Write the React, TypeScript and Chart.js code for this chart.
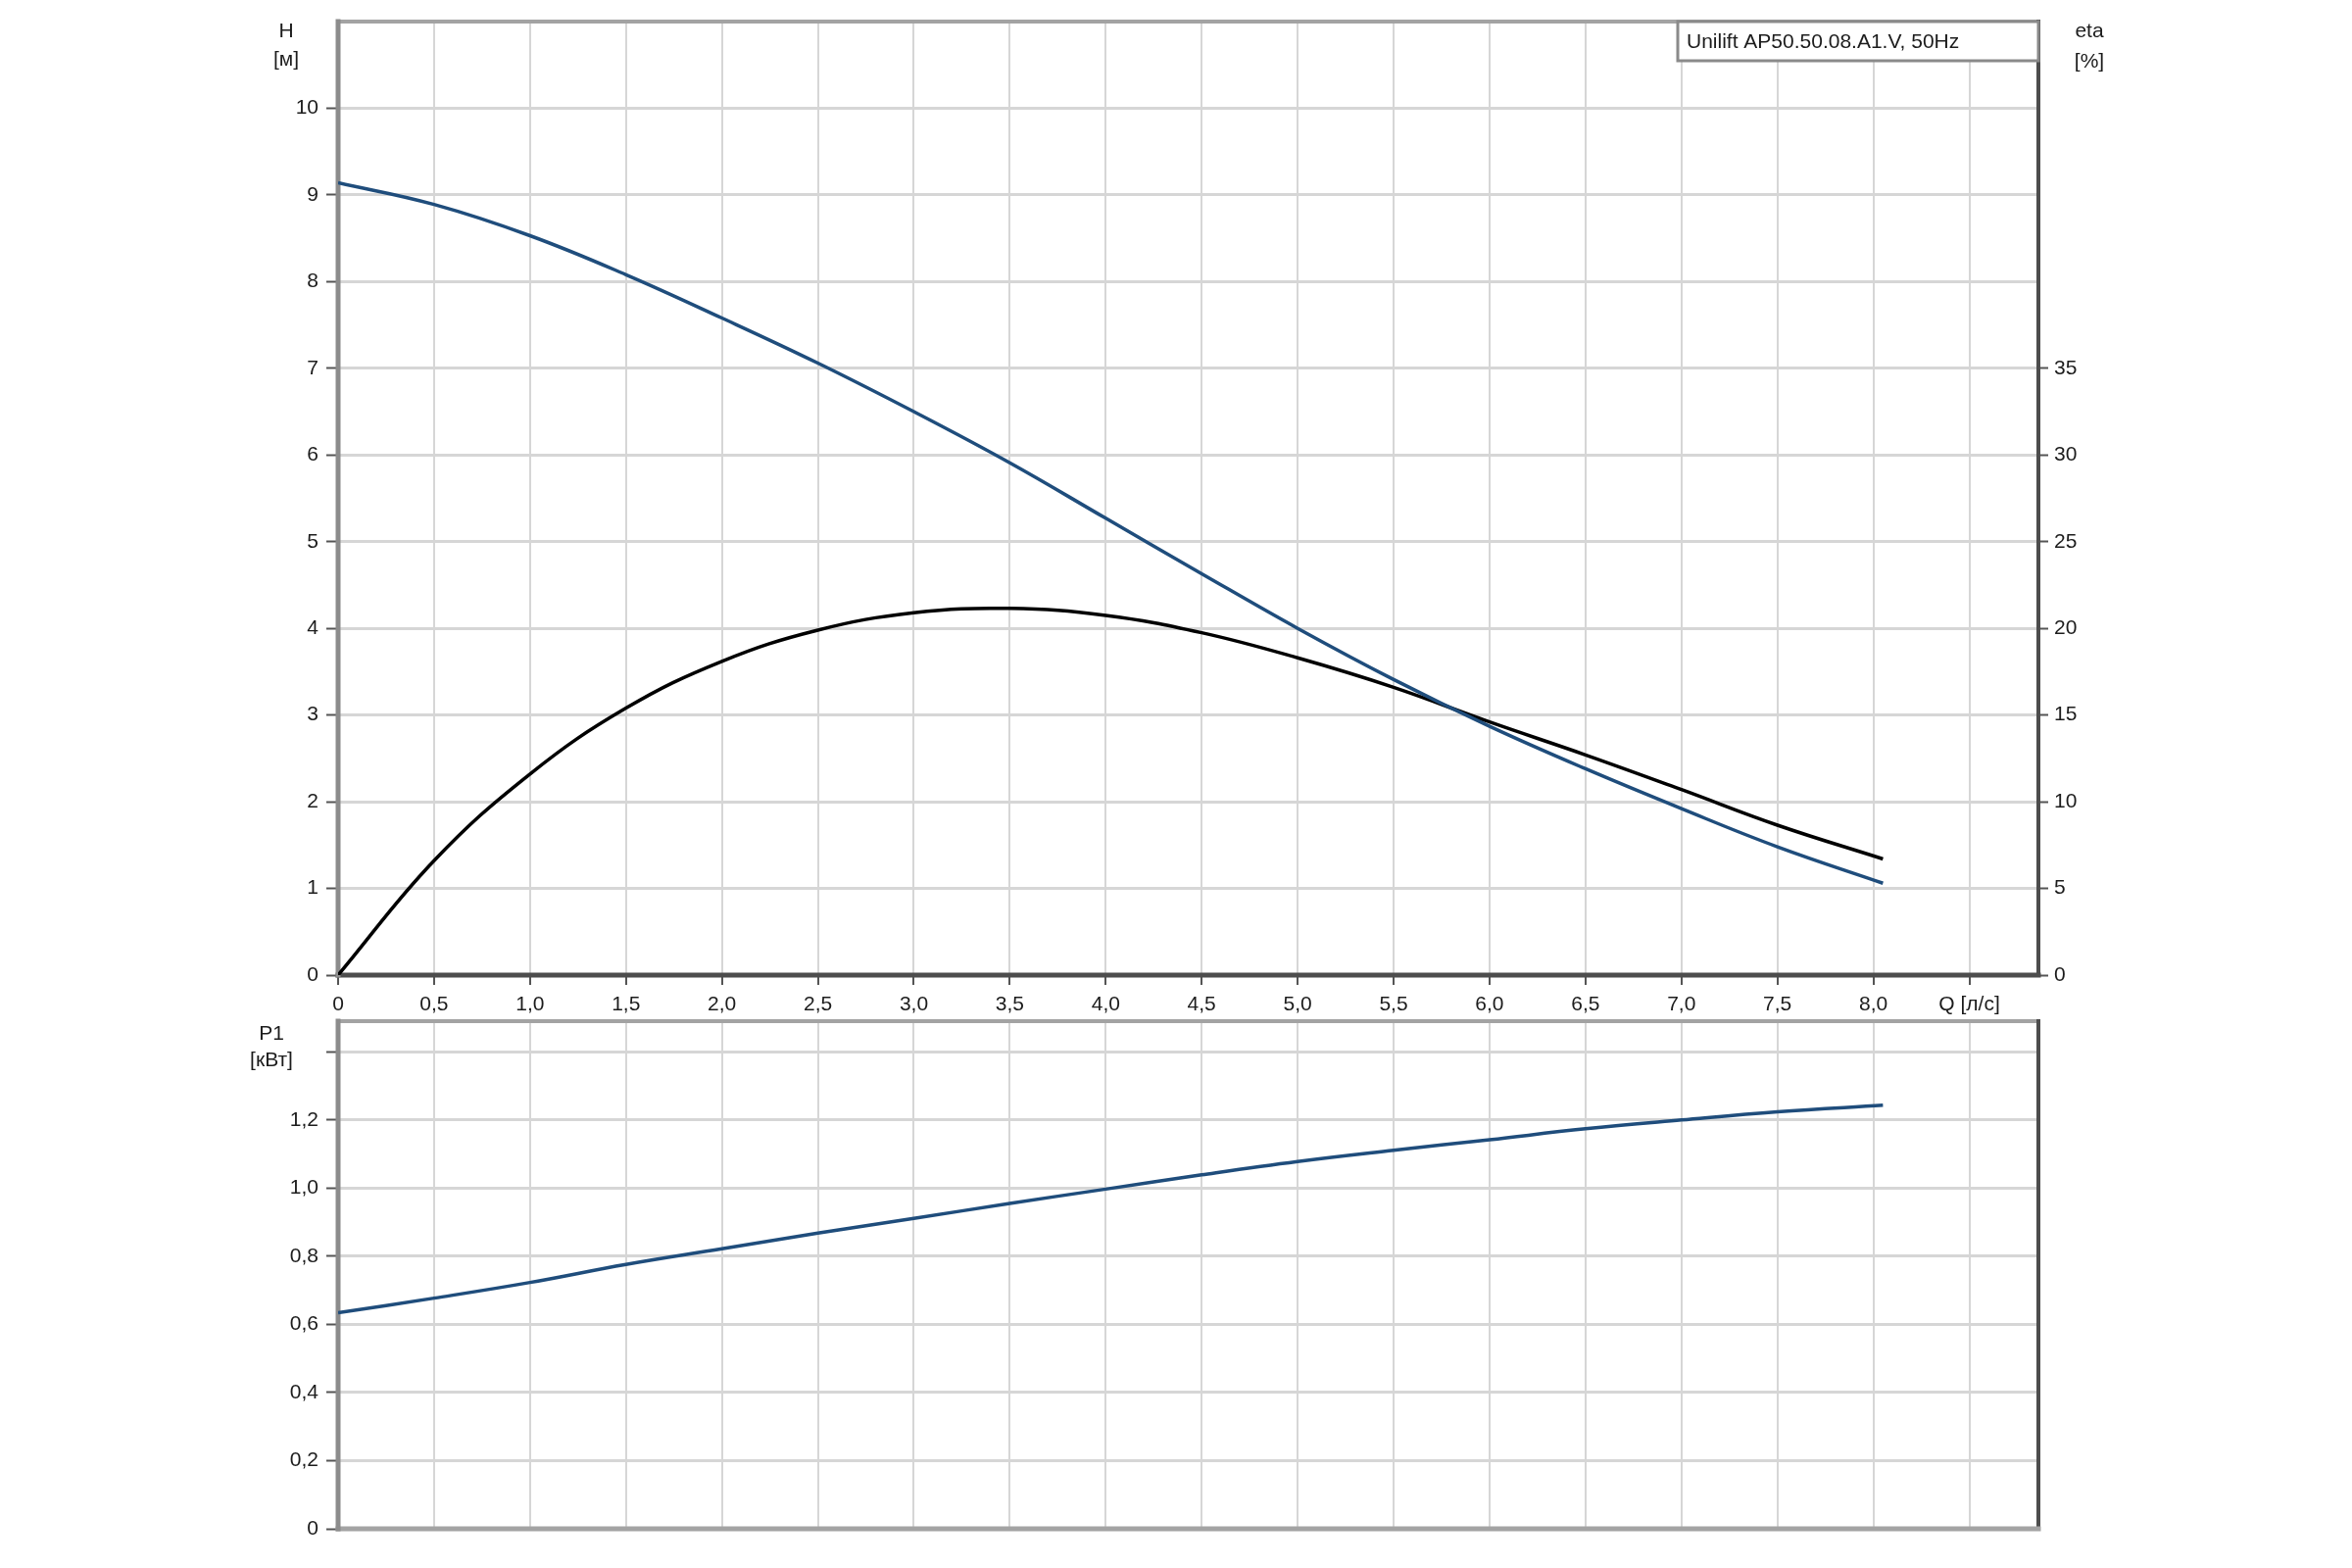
import React, { useEffect, useRef } from "react";
import { Chart, registerables } from "chart.js";

Chart.register(...registerables);

// ---- data ----
const flowRates = [0, 0.5, 1.0, 1.5, 2.0, 2.5, 3.0, 3.5, 4.0, 4.5, 5.0, 5.5, 6.0, 6.5, 7.0, 7.5, 8.05];
const headValues = [9.14, 8.89, 8.53, 8.08, 7.58, 7.06, 6.5, 5.91, 5.27, 4.63, 4.0, 3.41, 2.87, 2.38, 1.92, 1.48, 1.06];
const efficiencyValues = [0, 6.6, 11.6, 15.4, 18.1, 19.9, 20.9, 21.15, 20.75, 19.75, 18.3, 16.6, 14.6, 12.7, 10.7, 8.65, 6.7];
const powerValues = [0.634, 0.677, 0.723, 0.776, 0.822, 0.868, 0.911, 0.955, 0.997, 1.039, 1.078, 1.111, 1.142, 1.174, 1.2, 1.224, 1.243];

const modelLabel = "Unilift AP50.50.08.A1.V, 50Hz";
const flowAxisLabel = "Q [л/с]";
const headAxisLabel = ["H", "[м]"];
const effAxisLabel = ["eta", "[%]"];
const powerAxisLabel = ["P1", "[кВт]"];

const xMin = 0;
const xMax = 8.86;
const xStep = 0.5;
const xLabelSwapValue = 8.5;
const headMax = 11;
const headLastLabel = 10;
const effMax = 55;
const effLastLabel = 35;
const powerMax = 1.49;
const powerLastLabel = 1.2;

const FONT = '"Liberation Sans", Arial, Helvetica, sans-serif';
const TEXT = "#1c1c1c";
const GRID = "#d6d6d6";
const TICKC = "#555555";
const BLUE = "#1f4d7c";

function fmt(v: number): string {
  if (Math.abs(v) < 1e-9) return "0";
  return v.toFixed(1).replace(".", ",");
}

function pts(ys: number[]) {
  return flowRates.map((x, i) => ({ x, y: ys[i] }));
}

function framePlugin(c: { left: string; top: string; right: string; bottom: string }) {
  return {
    id: "frame",
    beforeDatasetsDraw(chart: any) {
      const { ctx, chartArea } = chart;
      const { left, right, top, bottom } = chartArea;
      ctx.save();
      ctx.lineCap = "square";
      const line = (x1: number, y1: number, x2: number, y2: number, col: string, w: number) => {
        ctx.beginPath();
        ctx.strokeStyle = col;
        ctx.lineWidth = w;
        ctx.moveTo(x1, y1);
        ctx.lineTo(x2, y2);
        ctx.stroke();
      };
      line(left, top, right, top, c.top, 4);
      line(right, top, right, bottom, c.right, 4);
      line(left, bottom, right, bottom, c.bottom, 5);
      line(left, top, left, bottom, c.left, 5);
      ctx.restore();
    },
  };
}

function unitsPlugin(items: { text: string; dx: number; dy: number; side: "left" | "right" }[]) {
  return {
    id: "units",
    afterDraw(chart: any) {
      const { ctx, chartArea } = chart;
      ctx.save();
      ctx.font = `21px ${FONT}`;
      ctx.fillStyle = TEXT;
      ctx.textAlign = "center";
      ctx.textBaseline = "middle";
      for (const it of items) {
        const x = it.side === "left" ? chartArea.left + it.dx : chartArea.right + it.dx;
        ctx.fillText(it.text, x, chartArea.top + it.dy);
      }
      ctx.restore();
    },
  };
}

const legendBoxPlugin = {
  id: "legendBox",
  afterDraw(chart: any) {
    const { ctx, chartArea } = chart;
    const w = 368;
    const h = 40;
    const x = chartArea.right - w;
    const y = chartArea.top;
    ctx.save();
    ctx.fillStyle = "#ffffff";
    ctx.fillRect(x, y, w, h);
    ctx.strokeStyle = "#8a8a8a";
    ctx.lineWidth = 3;
    ctx.strokeRect(x, y, w, h);
    ctx.font = `21px ${FONT}`;
    ctx.fillStyle = TEXT;
    ctx.textAlign = "left";
    ctx.textBaseline = "middle";
    ctx.fillText(modelLabel, x + 9, y + h / 2 + 1);
    ctx.restore();
  },
};

export default function App() {
  const topRef = useRef<HTMLCanvasElement | null>(null);
  const botRef = useRef<HTMLCanvasElement | null>(null);

  useEffect(() => {
    const tickFont = { family: FONT, size: 21 };

    const xAxis = (showLabels: boolean, height: number) => ({
      type: "linear",
      min: xMin,
      max: xMax,
      border: { display: false },
      grid: {
        color: GRID,
        lineWidth: 2,
        drawTicks: showLabels,
        tickLength: 10,
        tickColor: TICKC,
        tickWidth: 2,
      },
      ticks: {
        display: showLabels,
        stepSize: xStep,
        includeBounds: false,
        autoSkip: false,
        maxRotation: 0,
        padding: 8,
        color: TEXT,
        font: tickFont,
        callback: (v: number) => (Math.abs(v - xLabelSwapValue) < 1e-6 ? flowAxisLabel : fmt(v)),
      },
      afterFit: (s: any) => {
        s.height = height;
      },
    });

    const lineStyle = {
      borderWidth: 3.5,
      pointRadius: 0,
      tension: 0.4,
    };

    const top = new Chart(topRef.current as HTMLCanvasElement, {
      type: "line",
      data: {
        datasets: [
          { data: pts(headValues), borderColor: BLUE, yAxisID: "y", ...lineStyle },
          { data: pts(efficiencyValues), borderColor: "#000000", yAxisID: "y2", ...lineStyle },
        ],
      },
      options: {
        animation: false,
        responsive: false,
        devicePixelRatio: 1,
        layout: { padding: { top: 22, left: 0, right: 0, bottom: 0 } },
        plugins: { legend: { display: false }, tooltip: { enabled: false } },
        scales: {
          x: xAxis(true, 45),
          y: {
            type: "linear",
            position: "left",
            min: 0,
            max: headMax,
            border: { display: false },
            grid: {
              color: GRID,
              lineWidth: 3,
              tickLength: 12,
              tickWidth: 2,
              tickColor: (c: any) => (c.tick && c.tick.value > headLastLabel ? "rgba(0,0,0,0)" : TICKC),
            },
            ticks: {
              stepSize: 1,
              padding: 8,
              color: TEXT,
              font: tickFont,
              callback: (v: number) => (v > headLastLabel ? "" : String(v)),
            },
            afterFit: (s: any) => {
              s.width = 345;
            },
          },
          y2: {
            type: "linear",
            position: "right",
            min: 0,
            max: effMax,
            border: { display: false },
            grid: {
              drawOnChartArea: false,
              tickLength: 10,
              tickWidth: 2,
              tickColor: (c: any) => (c.tick && c.tick.value > effLastLabel ? "rgba(0,0,0,0)" : TICKC),
            },
            ticks: {
              stepSize: 5,
              padding: 6,
              color: TEXT,
              font: tickFont,
              callback: (v: number) => (v > effLastLabel ? "" : String(v)),
            },
            afterFit: (s: any) => {
              s.width = 320;
            },
          },
        },
      },
      plugins: [
        framePlugin({ left: "#8c8c8c", top: "#a3a3a3", right: "#4d4d4d", bottom: "#4d4d4d" }),
        legendBoxPlugin,
        unitsPlugin([
          { text: headAxisLabel[0], dx: -53, dy: 10, side: "left" },
          { text: headAxisLabel[1], dx: -53, dy: 39, side: "left" },
          { text: effAxisLabel[0], dx: 52, dy: 10, side: "right" },
          { text: effAxisLabel[1], dx: 52, dy: 41, side: "right" },
        ]),
      ],
    } as any);

    const bot = new Chart(botRef.current as HTMLCanvasElement, {
      type: "line",
      data: {
        datasets: [{ data: pts(powerValues), borderColor: BLUE, ...lineStyle }],
      },
      options: {
        animation: false,
        responsive: false,
        devicePixelRatio: 1,
        layout: { padding: { top: 26, left: 0, right: 320, bottom: 0 } },
        plugins: { legend: { display: false }, tooltip: { enabled: false } },
        scales: {
          x: xAxis(false, 40),
          y: {
            type: "linear",
            position: "left",
            min: 0,
            max: powerMax,
            border: { display: false },
            grid: {
              color: GRID,
              lineWidth: 3,
              tickLength: 12,
              tickWidth: 2,
              tickColor: TICKC,
            },
            ticks: {
              stepSize: 0.2,
              includeBounds: false,
              padding: 8,
              color: TEXT,
              font: tickFont,
              callback: (v: number) => (v > powerLastLabel + 1e-6 ? "" : fmt(v)),
            },
            afterFit: (s: any) => {
              s.width = 345;
            },
          },
        },
      },
      plugins: [
        framePlugin({ left: "#8c8c8c", top: "#a3a3a3", right: "#4d4d4d", bottom: "#a3a3a3" }),
        unitsPlugin([
          { text: powerAxisLabel[0], dx: -68, dy: 13, side: "left" },
          { text: powerAxisLabel[1], dx: -68, dy: 40, side: "left" },
        ]),
      ],
    } as any);

    return () => {
      top.destroy();
      bot.destroy();
    };
  }, []);

  return (
    <div style={{ position: "fixed", left: 0, top: 0, width: 2400, height: 1600, background: "#ffffff" }}>
      <canvas
        ref={topRef}
        width={2400}
        height={1040}
        style={{ position: "absolute", left: 0, top: 0, width: 2400, height: 1040, display: "block" }}
      />
      <canvas
        ref={botRef}
        width={2400}
        height={584}
        style={{ position: "absolute", left: 0, top: 1016, width: 2400, height: 584, display: "block" }}
      />
    </div>
  );
}
